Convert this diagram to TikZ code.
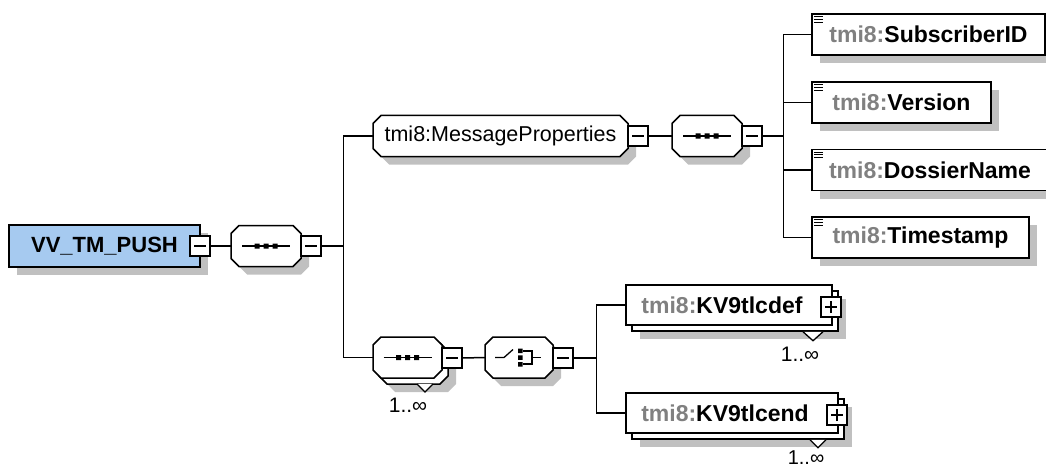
\documentclass[tikz,border=0pt]{standalone}
\usepackage{fontspec}
\setmainfont{Liberation Sans}
\usetikzlibrary{shadows}
\definecolor{shad}{RGB}{192,192,192}
\definecolor{rootblue}{RGB}{166,202,240}
\definecolor{pfx}{RGB}{128,128,128}
\tikzset{
 sh/.style={drop shadow={shadow xshift=8pt,shadow yshift=-8pt,fill=shad,opacity=1}},
 elem/.style={draw,line width=1.5pt,fill=white,rectangle,inner sep=0pt,minimum height=41pt,font=\fontsize{23}{23}\selectfont\bfseries},
 octtext/.style={inner sep=0pt,minimum height=41pt,font=\fontsize{21.5}{21.5}\selectfont},
 octline/.style={line width=1.5pt,fill=white},
 pm/.style={draw,line width=1.3pt,fill=white,rectangle,inner sep=0pt,minimum size=20pt},
 conn/.style={line width=1.5pt},
 mult/.style={font=\fontsize{21}{21}\selectfont,inner sep=0pt},
 icon/.style={line width=1.3pt},
}
% octagon outline: #1 x, #2 y, #3 width, #4 height
\newcommand\octpath[4]{({#1-#3/2},{#2-#4/2+8}) -- ({#1-#3/2+8},{#2-#4/2}) -- ({#1+#3/2-8},{#2-#4/2}) -- ({#1+#3/2},{#2-#4/2+8}) -- ({#1+#3/2},{#2+#4/2-8}) -- ({#1+#3/2-8},{#2+#4/2}) -- ({#1-#3/2+8},{#2+#4/2}) -- ({#1-#3/2},{#2+#4/2-8}) -- cycle}
% shadowed octagon with a named node: #1 name, #2 x, #3 y, #4 width, #5 text
\newcommand\octbox[5]{%
 \fill[shad] \octpath{#2+8}{#3+8}{#4}{41};
 \draw[octline] \octpath{#2}{#3}{#4}{41};
 \node[octtext,minimum width=#4pt] (#1) at (#2,#3) {#5};}
\newcommand\minusbox[1]{\draw[icon] ([xshift=-6pt]#1.center) -- ([xshift=6pt]#1.center);}
\newcommand\plusbox[1]{\draw[icon] ([xshift=-6pt]#1.center) -- ([xshift=6pt]#1.center) ([yshift=-6pt]#1.center) -- ([yshift=6pt]#1.center);}
\newcommand\seqicon[1]{\begin{scope}[shift={(#1.center)}]
 \draw[icon] (-24,0) -- (24,0);
 \fill (-11.5,-2.5) rectangle (-6.5,2.5) (-2.5,-2.5) rectangle (2.5,2.5) (6.5,-2.5) rectangle (11.5,2.5);
 \end{scope}}
\newcommand\elicon[1]{\begin{scope}[shift={(#1.north west)}]
 \draw[line width=1pt] (3,3.5) -- (12,3.5) (3,6.2) -- (12,6.2) (3,8.9) -- (12,8.9);
 \end{scope}}
\begin{document}
\begin{tikzpicture}[x=1pt,y=-1pt]
\useasboundingbox (0,0) rectangle (1046,468);
\clip (0,0) rectangle (1046,468);
% root
\node[elem,fill=rootblue,sh,minimum width=191pt,minimum height=42pt,font=\fontsize{22}{22}\selectfont\bfseries] (root) at (104.5,246) {VV\_TM\_PUSH};
\node[pm] (rootm) at (200,246) {};
\minusbox{rootm}
% first sequence
\octbox{seq1}{266}{246}{70}{}
\seqicon{seq1}
\node[pm] (seq1m) at (311,246) {};
\minusbox{seq1m}
% MessageProperties
\octbox{mp}{500.5}{136}{255}{tmi8:MessageProperties}
\node[pm] (mpm) at (638,136) {};
\minusbox{mpm}
\octbox{seq2}{707}{136}{70}{}
\seqicon{seq2}
\node[pm] (seq2m) at (752,136) {};
\minusbox{seq2m}
% leaf elements
\node[elem,sh,minimum width=233pt] (sub) at (928.5,34.5) {\textcolor{pfx}{tmi8:}SubscriberID};
\node[elem,sh,minimum width=179pt] (ver) at (901.5,102.5) {\textcolor{pfx}{tmi8:}Version};
\node[elem,sh,minimum width=236pt] (dos) at (930,170) {\textcolor{pfx}{tmi8:}DossierName};
\node[elem,sh,minimum width=217pt] (ts) at (920.5,237.5) {\textcolor{pfx}{tmi8:}Timestamp};
\elicon{sub}\elicon{ver}\elicon{dos}\elicon{ts}
% repeated sequence
\fill[shad] \octpath{421.5}{371.5}{69}{41};
\draw[octline] \octpath{413.5}{363.5}{69}{41};
\draw[line width=1.3pt,fill=white] (417,384) -- (425,392) -- (433,384);
\draw[octline] \octpath{407.5}{357.5}{69}{41};
\node[octtext,minimum width=69pt] (seq3) at (407.5,357.5) {};
\seqicon{seq3}
\node[pm] (seq3m) at (452,358) {};
\minusbox{seq3m}
\node[mult] (m1) at (408,405) {1..∞};
% choice
\octbox{choice}{519}{357.5}{68}{}
\begin{scope}[shift={(choice.center)}]
 \draw[icon] (-24,0) -- (-15,0) -- (-6,-8);
 \fill (-1,-9) rectangle (3.5,-4.5) (-1,-2.25) rectangle (3.5,2.25) (-1,4.5) rectangle (3.5,9);
 \draw[icon] (4,-6.5) -- (13,-6.5) -- (13,6.5) -- (4,6.5) (13,0) -- (22,0);
\end{scope}
\node[pm] (choicem) at (563,358) {};
\minusbox{choicem}
% KV9tlcdef
\node[elem,sh,minimum width=206pt,minimum height=40pt] (kv1b) at (735,311) {};
\draw[line width=1.3pt,fill=white] ([xshift=68pt]kv1b.south) -- ([xshift=78pt,yshift=-9pt]kv1b.south) -- ([xshift=88pt]kv1b.south);
\node[elem,minimum width=206pt,minimum height=40pt] (kv1) at (729,305) {\textcolor{pfx}{tmi8:}KV9tlcdef\hspace*{14pt}};
\node[pm] (kv1p) at (831,307) {};
\plusbox{kv1p}
\node[mult] (m2) at (800,354) {1..∞};
% KV9tlcend
\node[elem,sh,minimum width=212pt,minimum height=40pt] (kv2b) at (738,419) {};
\draw[line width=1.3pt,fill=white] ([xshift=72pt]kv2b.south) -- ([xshift=80pt,yshift=-8pt]kv2b.south) -- ([xshift=88pt]kv2b.south);
\node[elem,minimum width=212pt,minimum height=40pt] (kv2) at (732,413) {\textcolor{pfx}{tmi8:}KV9tlcend\hspace*{14pt}};
\node[pm] (kv2p) at (837,415) {};
\plusbox{kv2p}
\node[mult,font=\fontsize{20}{20}\selectfont] (m3) at (806,458) {1..∞};
% connectors
\draw[conn] (rootm.east) -- (seq1.west);
\draw[conn] (seq1m.east) -- ++(22,0) |- (mp.west);
\draw[conn] (seq1m.east) -- ++(22,0) |- (seq3.west);
\draw[conn] (mpm.east) -- (seq2.west);
\draw[conn] (seq2m.east) -- ++(21,0) |- (sub.west);
\draw[conn] (seq2m.east) -- ++(21,0) |- (ver.west);
\draw[conn] (seq2m.east) -- ++(21,0) |- (dos.west);
\draw[conn] (seq2m.east) -- ++(21,0) |- (ts.west);
\draw[conn] (seq3m.east) -- (choice.west);
\draw[conn] (choicem.east) -- ++(23,0) |- (kv1.west);
\draw[conn] (choicem.east) -- ++(23,0) |- (kv2.west);
\end{tikzpicture}
\end{document}
